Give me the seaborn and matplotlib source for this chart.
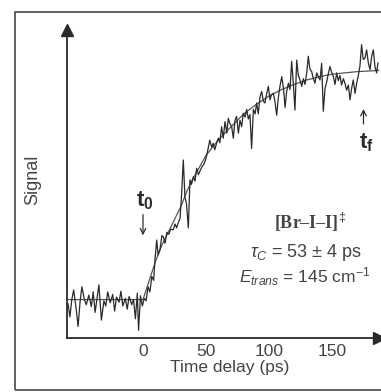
import matplotlib
matplotlib.use("Agg")
import matplotlib.pyplot as plt
from matplotlib.patches import Rectangle
import seaborn as sns
import pandas as pd

time_ps = [-59.5, -58, -56.5, -55, -53, -51.5, -50, -48.5, -46.5, -45, -43, -41,
           -39.5, -38, -36.5, -35, -33, -31, -29.5, -28, -26, -24, -22.5, -21,
           -19, -17.5, -16, -14, -12.5, -11, -9, -7.5, -6, -4.5, -3.5, -2, -0.5,
           1, 2.5, 4, 5.5, 7, 8.5, 9.5, 10.9, 12, 13.5, 15, 16.1, 17.5, 19, 20.5,
           22, 24, 25.5, 26.7, 28, 29.4, 30.7, 32, 33.3, 34.5, 36, 37.3, 38.5, 40,
           41.3, 42.6, 44, 45.5, 47, 48.5, 50, 51.5, 53, 54.5, 55.7, 57, 58.5, 59.8,
           61, 62.4, 63.7, 65.1, 66.5, 67.7, 69, 70.4, 71.7, 73, 74.3, 75.7, 77,
           78.3, 79.6, 81, 82.3, 83.6, 84.9, 86.2, 87.6, 89, 90.2, 91.5, 92.9, 94.2,
           95.5, 96.8, 98, 99.5, 100.8, 102, 103.4, 104.7, 106.1, 107.4, 108.7,
           110.1, 111.5, 112.8, 114, 115.4, 116.7, 118, 119.3, 120.6, 122, 123.3,
           124.6, 126, 127.3, 128.6, 130, 131.2, 132.5, 133.9, 135.2, 136.5, 137.9,
           139.2, 140.5, 141.8, 143.1, 144.5, 145.8, 147, 148.4, 149.7, 151, 152.4,
           153.7, 155, 156.3, 157.6, 159, 160.3, 161.6, 163, 164.3, 165.6, 166.9,
           168.3, 169.6, 170.9, 172.2, 173.5, 174.8, 176.2, 177.5, 178.8, 180.2,
           181.5, 182.8, 184.1, 185.4, 186.5]
signal = [0.54, 0.33, 0.60, 0.75, 0.45, 0.18, 0.55, 0.80, 0.60, 0.52, 0.67, 0.49,
          0.72, 0.40, 0.62, 0.83, 0.28, 0.58, 0.50, 0.72, 0.55, 0.68, 0.42, 0.64,
          0.56, 0.73, 0.50, 0.62, 0.45, 0.65, 0.52, 0.60, 0.30, 0.70, 0.12, 0.66, 0.50,
          0.62, 0.58, 0.80, 0.72, 0.96, 0.90, 1.22, 1.53, 1.30, 1.38, 1.60, 1.58, 1.48,
          1.65, 1.62, 1.70, 1.69, 1.78, 1.72, 1.80, 1.87, 2.26, 2.78, 2.20, 2.10, 1.72,
          2.47, 2.40, 2.52, 2.45, 2.65, 2.55, 2.62, 2.68, 2.72, 2.80, 2.94, 3.09, 2.98,
          3.04, 2.94, 3.05, 3.12, 3.05, 3.30, 3.12, 3.38, 3.20, 3.43, 3.35, 3.30, 3.12,
          3.40, 3.46, 3.20, 3.40, 3.30, 3.51, 3.45, 3.57, 3.42, 3.49, 2.96, 3.57, 3.50,
          3.67, 3.50, 3.77, 3.85, 3.70, 3.67, 3.80, 3.93, 3.72, 3.80, 3.82, 3.70, 3.48,
          3.75, 3.93, 4.08, 3.90, 3.60, 3.85, 3.98, 3.88, 4.32, 3.98, 3.56, 4.34, 4.10,
          4.03, 3.93, 4.05, 3.96, 4.15, 4.40, 4.20, 4.16, 4.05, 3.98, 4.14, 4.08, 4.03,
          4.29, 3.54, 3.90, 4.00, 4.12, 4.24, 4.15, 4.09, 3.96, 4.14, 4.02, 4.10, 3.95,
          4.05, 3.98, 3.87, 3.95, 3.72, 3.90, 4.03, 3.82, 3.98, 4.10, 4.25, 4.58, 4.35,
          4.37, 4.50, 4.30, 4.19, 4.40, 4.50, 4.24, 4.14, 4.30]

# smooth fitted curve
fit_time = [-60, -40, -20, 0, 5, 10, 15, 20, 25, 30, 35, 40, 50, 60, 70, 80, 90,
            100, 110, 120, 130, 140, 150, 160, 170, 180, 187]
fit_signal = [0.6, 0.6, 0.6, 0.6, 0.9, 1.2, 1.45, 1.65, 1.85, 2.05, 2.3, 2.5, 2.85,
              3.1, 3.3, 3.5, 3.65, 3.78, 3.88, 3.96, 4.03, 4.08, 4.12, 4.14, 4.16,
              4.17, 4.18]

xticks = [0, 50, 100, 150]
yticks = [1, 2, 3, 4]

sns.set_style("white")
plt.rcParams['font.family'] = ['Liberation Sans', 'DejaVu Sans']
plt.rcParams['mathtext.fontset'] = 'custom'
plt.rcParams['mathtext.rm'] = 'Liberation Sans'
plt.rcParams['mathtext.it'] = 'Liberation Sans:italic'
plt.rcParams['mathtext.bf'] = 'Liberation Sans:bold'

ink = '#2a2a2a'
grey = '#444444'

fig = plt.figure(figsize=(3.81, 3.92), dpi=100)
ax = fig.add_axes([67 / 381, 54 / 392, 314 / 381, 308 / 392])

df = pd.DataFrame({'t': time_ps, 's': signal})
fit = pd.DataFrame({'t': fit_time, 's': fit_signal})
sns.lineplot(data=fit, x='t', y='s', ax=ax, color='#555555', lw=0.9)
sns.lineplot(data=df, x='t', y='s', ax=ax, color=ink, lw=0.9)

ax.set_xlim(-60.3, 188.9)
ax.set_ylim(0, 4.81)
ax.set_xticks(xticks)
ax.set_xticklabels([str(v) for v in xticks])
ax.set_yticks(yticks)
ax.set_yticklabels([])
ax.tick_params(axis='both', direction='in', length=7, width=1, color=ink,
               labelsize=12.5, labelcolor=grey)
ax.tick_params(axis='x', pad=4)
for side in ['top', 'right']:
    ax.spines[side].set_visible(False)
for side in ['left', 'bottom']:
    ax.spines[side].set_color(ink)
    ax.spines[side].set_linewidth(1.3)

# axis arrow heads
ax.plot(0, 1, marker='^', color=ink, ms=8, transform=ax.transAxes, clip_on=False)
ax.plot(0.995, 0, marker='>', color=ink, ms=8, transform=ax.transAxes, clip_on=False)

ax.set_xlabel('Time delay (ps)', fontsize=12.5, color=grey)
ax.xaxis.set_label_coords((230 - 67) / 314, -0.072)
ax.set_ylabel('Signal', fontsize=13, color=grey)
ax.yaxis.set_label_coords(-0.083, 0.515)

# t0 / tf markers
ax.text(1.5, 2.15, r'$\mathbf{t_0}$', fontsize=16, ha='center', va='center', color=ink)
ax.annotate('', xy=(0, 1.56), xytext=(0, 1.97),
            arrowprops=dict(arrowstyle='->', color=ink, lw=0.9))
ax.text(177, 3.05, r'$\mathbf{t_f}$', fontsize=16, ha='center', va='center', color=ink)
ax.annotate('', xy=(175, 3.62), xytext=(175, 3.30),
            arrowprops=dict(arrowstyle='->', color=ink, lw=0.9))

ax.text(132.5, 1.80, '[Br–I–I]$^{\u2021}$', fontsize=13, ha='center', va='center',
        family='Liberation Serif', fontweight='bold', color=grey)
ax.text(129.4, 1.33, r'$\tau_C$ = 53 ± 4 ps', fontsize=13, ha='center', va='center',
        color=grey)
ax.text(128.6, 0.95, r'$E_{trans}$ = 145 cm$^{-1}$', fontsize=12.5, ha='center',
        va='center', color=grey)

# outer frame of the scanned figure
fig.patches.append(Rectangle((15 / 381, 2 / 392), 1.0, 378 / 392, transform=fig.transFigure,
                             fill=False, edgecolor='#555555', lw=1.3))

fig.savefig('out.png', dpi=100)
